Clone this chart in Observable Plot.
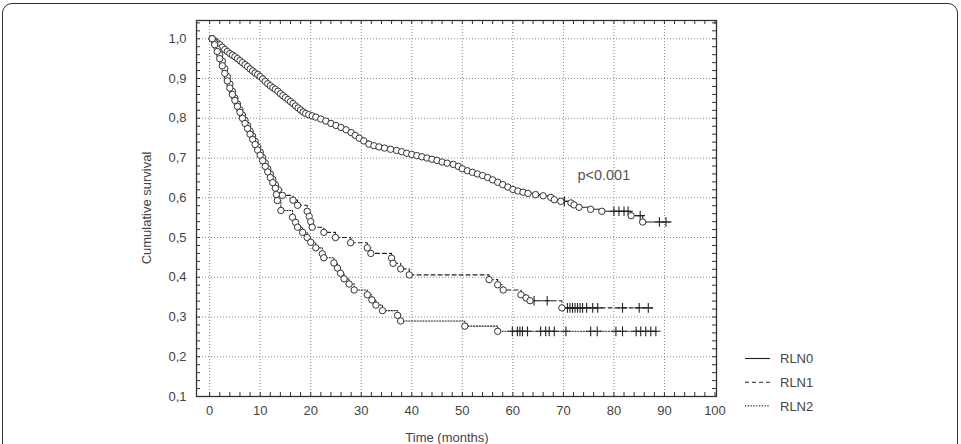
<!DOCTYPE html>
<html><head><meta charset="utf-8">
<script src="https://cdn.jsdelivr.net/npm/d3@7"></script>
<script src="https://cdn.jsdelivr.net/npm/@observablehq/plot@0.6"></script>
<style>
body{margin:0;background:#fff;overflow:hidden}
#wrap{position:relative;width:961px;height:444px;overflow:hidden;background:#fff}
#border{position:absolute;left:2px;top:3px;width:956px;height:480px;border:1.5px solid #333;border-radius:10px;box-sizing:border-box}
#chart{position:absolute;left:0;top:0}
</style></head><body><div id="wrap"><div id="border"></div><div id="chart"></div></div>
<script>
// ---- data (time in months, cumulative survival) ----
const seriesNames = ["RLN0", "RLN1", "RLN2"];

const rln0Events = [[0.5,1.0],[1.0,0.995],[1.5,0.99],[2.0,0.985],[2.5,0.979],[3.0,0.973],[3.5,0.968],[4.0,0.963],[4.5,0.959],[5.0,0.955],[5.5,0.95],[6.0,0.945],[6.5,0.94],[7.0,0.935],[7.5,0.93],[8.0,0.924],[8.5,0.919],[9.0,0.914],[9.5,0.91],[10.0,0.905],[10.5,0.899],[11.0,0.893],[11.5,0.887],[12.0,0.882],[12.5,0.877],[13.0,0.873],[13.5,0.868],[14.0,0.862],[14.5,0.857],[15.0,0.852],[15.5,0.847],[16.0,0.842],[16.5,0.837],[17.0,0.831],[17.5,0.826],[18.0,0.821],[18.5,0.816],[19.0,0.812],[19.6,0.809],[20.3,0.806],[21.0,0.803],[22.0,0.798],[23.0,0.793],[24.0,0.787],[25.0,0.782],[26.0,0.777],[27.0,0.771],[28.0,0.764],[28.8,0.757],[29.6,0.75],[30.5,0.743],[31.5,0.735],[32.5,0.731],[33.5,0.728],[34.6,0.725],[35.8,0.722],[37.0,0.719],[38.0,0.716],[39.0,0.712],[40.0,0.709],[41.0,0.706],[42.0,0.703],[43.0,0.7],[44.0,0.697],[45.0,0.694],[46.0,0.69],[47.0,0.687],[48.2,0.684],[49.2,0.679],[50.0,0.673],[51.0,0.668],[52.0,0.664],[53.0,0.66],[54.0,0.656],[55.0,0.651],[56.0,0.645],[57.0,0.639],[58.0,0.633],[59.0,0.627],[60.0,0.621],[61.0,0.617],[62.0,0.614],[63.0,0.611],[64.5,0.608],[66.0,0.605],[67.5,0.601],[68.2,0.595],[69.5,0.591],[71.5,0.587],[72.1,0.582],[73.1,0.576],[75.4,0.571],[77.6,0.566],[83.4,0.555],[85.7,0.539]];
const rln0Censored = [[70.2,0.591],[80.0,0.566],[81.0,0.566],[82.0,0.566],[82.8,0.566],[85.2,0.555],[89.0,0.539],[90.3,0.539]];
const rln0End = [91.3, 0.539];

const rln1Events = [[0.5,1.0],[1.0,0.99],[1.5,0.975],[2.0,0.96],[2.5,0.944],[3.0,0.925],[3.5,0.905],[4.0,0.886],[4.5,0.868],[5.0,0.851],[5.5,0.836],[6.0,0.821],[6.5,0.808],[7.0,0.795],[7.5,0.782],[8.0,0.768],[8.5,0.755],[9.0,0.742],[9.5,0.728],[10.0,0.715],[10.5,0.701],[11.0,0.688],[11.5,0.673],[12.0,0.66],[12.5,0.646],[13.0,0.633],[13.6,0.62],[14.4,0.606],[16.5,0.594],[17.4,0.581],[19.3,0.566],[19.7,0.553],[20.0,0.54],[20.3,0.526],[22.6,0.513],[24.9,0.5],[27.9,0.487],[31.2,0.474],[31.9,0.46],[36.0,0.448],[36.3,0.435],[37.8,0.421],[39.5,0.406],[55.3,0.394],[57.0,0.381],[58.1,0.368],[61.6,0.356],[62.6,0.348],[63.4,0.341],[69.7,0.323]];
const rln1Censored = [[64.2,0.341],[66.8,0.341],[70.8,0.323],[71.3,0.323],[71.8,0.323],[72.3,0.323],[72.8,0.323],[73.3,0.323],[73.8,0.323],[74.6,0.323],[75.8,0.323],[76.8,0.323],[81.7,0.323],[85.0,0.323],[86.8,0.323]];
const rln1End = [87.6, 0.323];

const rln2Events = [[0.5,1.0],[1.0,0.985],[1.5,0.968],[2.0,0.95],[2.5,0.932],[3.0,0.913],[3.5,0.894],[4.0,0.876],[4.5,0.86],[5.0,0.845],[5.5,0.83],[6.0,0.815],[6.5,0.8],[7.0,0.787],[7.5,0.774],[8.0,0.76],[8.5,0.747],[9.0,0.734],[9.5,0.72],[10.0,0.707],[10.5,0.693],[11.0,0.679],[11.5,0.665],[12.0,0.651],[12.5,0.638],[13.0,0.624],[13.2,0.608],[13.4,0.593],[14.1,0.568],[16.4,0.551],[17.0,0.538],[17.4,0.526],[18.4,0.513],[19.3,0.5],[20.0,0.488],[21.0,0.474],[22.3,0.459],[22.6,0.449],[24.6,0.436],[25.3,0.423],[25.9,0.41],[26.6,0.396],[27.6,0.383],[28.6,0.368],[31.2,0.356],[32.1,0.343],[32.9,0.33],[34.2,0.316],[37.2,0.304],[37.8,0.29],[50.5,0.277],[57.0,0.264]];
const rln2Censored = [[59.9,0.264],[60.9,0.264],[61.4,0.264],[61.9,0.264],[62.9,0.264],[65.5,0.264],[66.5,0.264],[67.2,0.264],[68.2,0.264],[70.5,0.264],[75.4,0.264],[76.7,0.264],[80.4,0.264],[81.7,0.264],[84.4,0.264],[85.3,0.264],[86.3,0.264],[87.3,0.264],[88.3,0.264]];
const rln2End = [88.5, 0.264];

const xMajorTicks = [0,10,20,30,40,50,60,70,80,90,100];
const yMajorTicks = [0.1,0.2,0.3,0.4,0.5,0.6,0.7,0.8,0.9,1.0];
const xMinorTicks = d3.range(0, 101, 2);
const yMinorTicks = d3.range(10, 105, 2).map(v => v / 100);
const pValueLabel = {t: 78, s: 0.656, text: "p<0.001"};

// ---- build ----
const toRows = (arr, name) => arr.map(([t, s]) => ({t, s, name}));
const lineRows = (ev, ce, end, name) =>
  toRows([...ev, ...ce, end], name).sort((a, b) => a.t - b.t);

const styles = {
  RLN0: {dash: null, width: 1.1},
  RLN1: {dash: "4,3", width: 1.1},
  RLN2: {dash: "1.2,1.6", width: 1.1}
};
const sets = [
  ["RLN0", rln0Events, rln0Censored, rln0End],
  ["RLN1", rln1Events, rln1Censored, rln1End],
  ["RLN2", rln2Events, rln2Censored, rln2End]
];

const W = 961, H = 444, mL = 196, mR = 245, mT = 20, mB = 48;
const pw = W - mL - mR, ph = H - mT - mB;
const ink = "#333";
const FONT = "'Liberation Sans', Arial, sans-serif";

const marks = [
  Plot.gridX(xMajorTicks.filter(v => v < 100), {stroke: "#8a8a8a", strokeOpacity: 1, strokeDasharray: "1,2"}),
  Plot.gridY(yMajorTicks.filter(v => v > 0.1), {stroke: "#8a8a8a", strokeOpacity: 1, strokeDasharray: "1,2"}),
  // inward minor ticks on all four sides
  Plot.tickX(xMinorTicks, {x: d => d, insetTop: ph - 4, stroke: ink}),
  Plot.tickX(xMinorTicks, {x: d => d, insetBottom: ph - 4, stroke: ink}),
  Plot.tickY(yMinorTicks, {y: d => d, insetRight: pw - 4, stroke: ink}),
  Plot.tickY(yMinorTicks, {y: d => d, insetLeft: pw - 4, stroke: ink}),
  Plot.frame({stroke: ink, strokeWidth: 1.3}),
  Plot.axisX(xMajorTicks, {tickSize: 0, tickPadding: 9, tickFormat: d => String(d), label: null, fontSize: 13, fill: "#444"}),
  Plot.axisY(yMajorTicks, {tickSize: 0, tickPadding: 10, tickFormat: d => d.toFixed(1).replace(".", ","), label: null, fontSize: 13, fill: "#444"})
];
for (const [name, ev, ce, end] of sets) {
  marks.push(Plot.line(lineRows(ev, ce, end, name), {
    x: "t", y: "s", curve: "step-after", stroke: "#222",
    strokeWidth: styles[name].width, strokeDasharray: styles[name].dash
  }));
}
for (const [name, ev, ce] of sets) {
  marks.push(Plot.dot(toRows(ce, name), {x: "t", y: "s", symbol: "plus", r: 3.2, stroke: "#222", strokeWidth: 1.1}));
  marks.push(Plot.dot(toRows(ev, name), {x: "t", y: "s", symbol: "circle", r: 3.2, fill: "white", stroke: "#333", strokeWidth: 1}));
}
marks.push(Plot.text([pValueLabel], {x: "t", y: "s", text: "text", fontSize: 14.5, fill: "#555"}));

const chart = Plot.plot({
  width: W, height: H,
  marginLeft: mL, marginRight: mR, marginTop: mT, marginBottom: mB,
  x: {domain: [-2.6, 100.3], label: null},
  y: {domain: [0.1, 1.046], label: null},
  style: {fontFamily: FONT, fontSize: "13px", color: "#444", background: "transparent", overflow: "visible"},
  marks
});
document.getElementById("chart").appendChild(chart);

// axis titles and legend
const svg = d3.select(chart);
svg.append("text").attr("transform", `translate(151,${mT + ph / 2}) rotate(-90)`)
  .attr("text-anchor", "middle").attr("font-size", 13).attr("fill", "#444")
  .attr("font-family", FONT).text("Cumulative survival");
svg.append("text").attr("x", 447).attr("y", 442)
  .attr("text-anchor", "middle").attr("font-size", 13).attr("fill", "#444")
  .attr("font-family", FONT).text("Time (months)");
const lg = svg.append("g").attr("font-family", FONT).attr("font-size", 13).attr("fill", "#444").attr("text-anchor", "start");
seriesNames.forEach((n, i) => {
  const yy = 358.5 + i * 23.7;
  lg.append("line").attr("x1", 745).attr("x2", 770).attr("y1", yy).attr("y2", yy)
    .attr("stroke", "#222").attr("stroke-width", 1.1).attr("stroke-dasharray", styles[n].dash);
  lg.append("text").attr("x", 780).attr("y", yy + 4.6).attr("text-anchor", "start").text(n);
});
</script></body></html>
